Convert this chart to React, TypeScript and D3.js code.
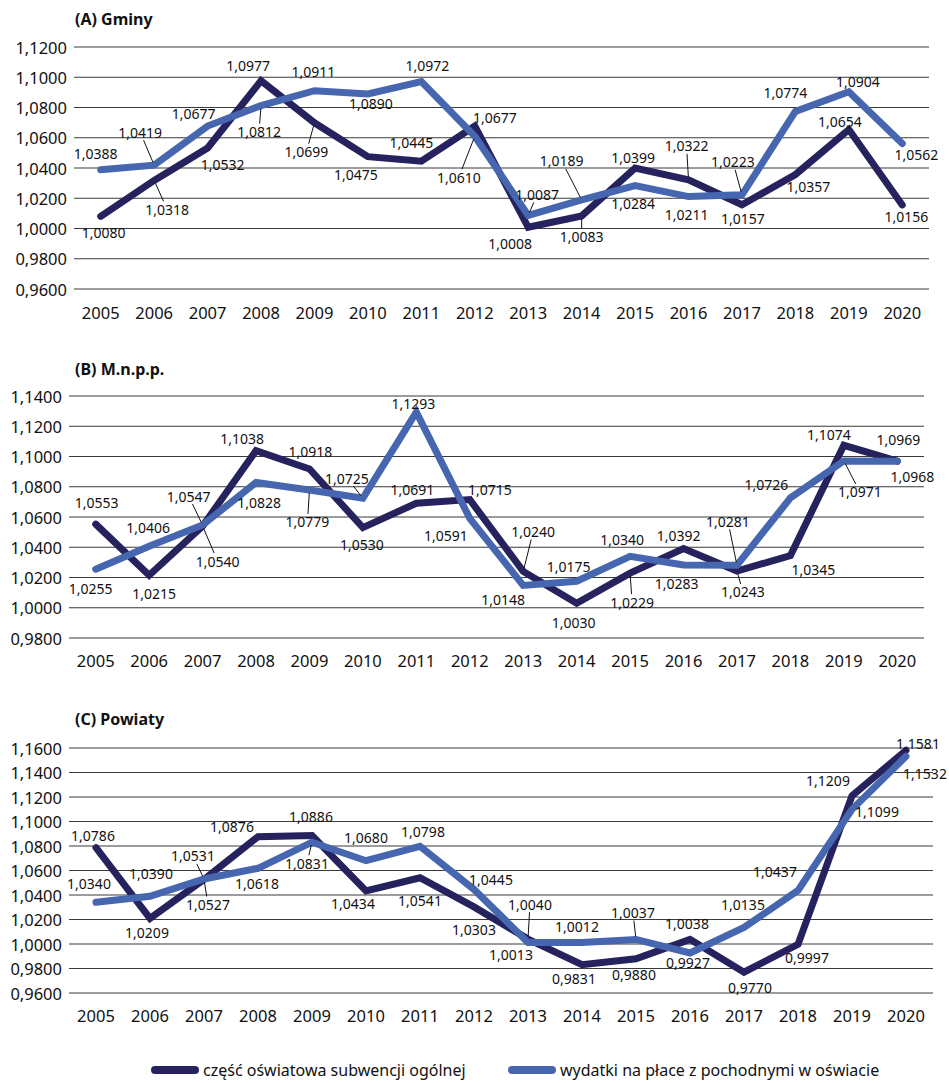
import React from "react";
import * as d3 from "d3";

const years = ["2005","2006","2007","2008","2009","2010","2011","2012","2013","2014","2015","2016","2017","2018","2019","2020"];

const seriesNames = ["część oświatowa subwencji ogólnej", "wydatki na płace z pochodnymi w oświacie"];

// (A) Gminy
const gminyOswiatowa = [1.0080,1.0318,1.0532,1.0977,1.0699,1.0475,1.0445,1.0677,1.0008,1.0083,1.0399,1.0322,1.0157,1.0357,1.0654,1.0156];
const gminyPlace = [1.0388,1.0419,1.0677,1.0812,1.0911,1.0890,1.0972,1.0610,1.0087,1.0189,1.0284,1.0211,1.0223,1.0774,1.0904,1.0562];
const gminyTicks = [0.96,0.98,1.00,1.02,1.04,1.06,1.08,1.10,1.12];

// (B) M.n.p.p.
const mnppOswiatowa = [1.0553,1.0215,1.0540,1.1038,1.0918,1.0530,1.0691,1.0715,1.0240,1.0030,1.0229,1.0392,1.0243,1.0345,1.1074,1.0969];
const mnppPlace = [1.0255,1.0406,1.0547,1.0828,1.0779,1.0725,1.1293,1.0591,1.0148,1.0175,1.0340,1.0283,1.0281,1.0726,1.0971,1.0968];
const mnppTicks = [0.98,1.00,1.02,1.04,1.06,1.08,1.10,1.12,1.14];

// (C) Powiaty
const powiatyOswiatowa = [1.0786,1.0209,1.0527,1.0876,1.0886,1.0434,1.0541,1.0303,1.0040,0.9831,0.9880,1.0038,0.9770,0.9997,1.1209,1.1581];
const powiatyPlace = [1.0340,1.0390,1.0531,1.0618,1.0831,1.0680,1.0798,1.0445,1.0013,1.0012,1.0037,0.9927,1.0135,1.0437,1.1099,1.1532];
const powiatyTicks = [0.96,0.98,1.00,1.02,1.04,1.06,1.08,1.10,1.12,1.14,1.16];

// label layout (pixel offsets from the point, leader flag)
type Off = [number, number, number?];
const gminyOffDark: Off[] = [[3,16],[13,29,1],[15,16],[-13,-15],[-8,29,1],[-12,18],[-10,-19],[20,-9],[-18,16],[0,21,1],[-2,-11],[-2,-34,1],[1,14],[13,12],[-9,-8],[4,12]];
const gminyOffBlue: Off[] = [[-5,-16],[-14,-33,1],[-14,-13],[-2,26,1],[-1,-19],[3,10],[6,-16],[-16,41,1],[9,-21,1],[-20,-39,1],[-2,18],[-2,18],[-9,-33,1],[-10,-19],[9,-10],[14,11]];
const mnppOffDark: Off[] = [[1,-22],[5,18],[15,35,1],[-14,-12],[1,-17],[-1,17],[-4,-14],[20,-10],[10,-40,1],[-3,19],[2,29,1],[-5,-13],[6,21,1],[23,14],[-15,-11],[1,-22]];
const mnppOffBlue: Off[] = [[-5,19],[-1,-19],[-14,-29,1],[3,20],[-2,32,1],[-16,-20,1],[-3,-9],[-24,17],[-20,14],[-8,-15],[-8,-17],[-7,19],[-9,-44,1],[-24,-13],[16,31,1],[15,15]];
const powiatyOffDark: Off[] = [[-3,-12],[-3,14],[4,25,1],[-26,-10],[-1,-19],[-13,13],[0,23],[0,23],[2,-35,1],[-8,14],[-2,16],[-3,-16],[6,15],[9,13],[-24,-15],[12,-7]];
const powiatyOffBlue: Off[] = [[-7,-19],[1,-23],[-11,-23,1],[-1,15],[-5,21,1],[0,-23],[3,-15],[17,-10],[-17,12],[-5,-16],[-3,-27,1],[-2,10],[-1,-23],[-23,-19],[25,2],[19,17]];

const DARK = "#26225e";
const BLUE = "#4667b0";
const FONT = "'Noto Sans', 'Open Sans', sans-serif";

const fmt = (v: number) => v.toFixed(4).replace(".", ",");

interface PanelProps {
  title: string;
  dark: number[];
  blue: number[];
  ticks: number[];
  offDark: Off[];
  offBlue: Off[];
  left: number;
  right: number;
  top: number;
  bottom: number;
  titleX: number;
  titleY: number;
  yearY: number;
  tickX: number;
}

function leader(px: number, py: number, lx: number, ly: number) {
  const w = 23, h = 8;
  const dx = lx - px, dy = ly - py;
  const s = Math.min(dx ? w / Math.abs(dx) : Infinity, dy ? h / Math.abs(dy) : Infinity);
  if (s >= 1) return null;
  const ex = lx - s * dx, ey = ly - s * dy;
  const len = Math.hypot(dx, dy);
  const sx = px + (3 / len) * dx, sy = py + (3 / len) * dy;
  return <line x1={sx} y1={sy} x2={ex} y2={ey} stroke="#111" strokeWidth={1} />;
}

function Panel(p: PanelProps) {
  const x = d3.scaleBand<string>().domain(years).range([p.left, p.right]);
  const y = d3.scaleLinear().domain([p.ticks[0], p.ticks[p.ticks.length - 1]]).range([p.bottom, p.top]);
  const cx = (i: number) => (x(years[i]) as number) + x.bandwidth() / 2;
  const line = d3.line<number>().x((_, i) => cx(i)).y((v) => y(v));
  const labels = (vals: number[], offs: Off[], key: string) =>
    vals.map((v, i) => {
      const px = cx(i), py = y(v);
      const [dx, dy, l] = offs[i];
      const lx = px + dx, ly = py + dy;
      return (
        <g key={key + i}>
          {l ? leader(px, py, lx, ly) : null}
          <text x={lx} y={ly} textAnchor="middle" dominantBaseline="central" fontSize={14} fill="#111">{fmt(v)}</text>
        </g>
      );
    });
  return (
    <g fontFamily={FONT}>
      <text x={p.titleX} y={p.titleY} fontSize={16} fontWeight="bold" dominantBaseline="central" fill="#111">{p.title}</text>
      {p.ticks.map((t) => (
        <g key={t}>
          <line x1={p.left} x2={p.right} y1={y(t)} y2={y(t)} stroke="#3a3a3a" strokeWidth={1.2} />
          <text x={p.tickX} y={y(t)} textAnchor="end" dominantBaseline="central" fontSize={16.5} fill="#111">{fmt(t)}</text>
        </g>
      ))}
      {years.map((yr, i) => (
        <text key={yr} x={cx(i)} y={p.yearY} textAnchor="middle" dominantBaseline="central" fontSize={16.5} fill="#111">{yr}</text>
      ))}
      <path d={line(p.dark) || ""} fill="none" stroke={DARK} strokeWidth={7} strokeLinejoin="miter" strokeLinecap="round" />
      <path d={line(p.blue) || ""} fill="none" stroke={BLUE} strokeWidth={7} strokeLinejoin="miter" strokeLinecap="round" />
      {labels(p.dark, p.offDark, "d")}
      {labels(p.blue, p.offBlue, "b")}
    </g>
  );
}

export default function App() {
  return (
    <svg width={949} height={1083} style={{ position: "absolute", left: 0, top: 0, background: "#fff" }}>
      <rect width={949} height={1083} fill="#fff" />
      <Panel title="(A) Gminy" dark={gminyOswiatowa} blue={gminyPlace} ticks={gminyTicks} offDark={gminyOffDark} offBlue={gminyOffBlue}
        left={74} right={929} top={47} bottom={289} titleX={75} titleY={19} yearY={312} tickX={67} />
      <Panel title="(B) M.n.p.p." dark={mnppOswiatowa} blue={mnppPlace} ticks={mnppTicks} offDark={mnppOffDark} offBlue={mnppOffBlue}
        left={69} right={924} top={396} bottom={638} titleX={75} titleY={369} yearY={660} tickX={62} />
      <Panel title="(C) Powiaty" dark={powiatyOswiatowa} blue={powiatyPlace} ticks={powiatyTicks} offDark={powiatyOffDark} offBlue={powiatyOffBlue}
        left={69} right={933} top={748} bottom={993} titleX={75} titleY={719} yearY={1015} tickX={62} />
      <g fontFamily={FONT} fontSize={16} fill="#111">
        <line x1={155} x2={195} y1={1070} y2={1070} stroke={DARK} strokeWidth={8} strokeLinecap="round" />
        <text x={203} y={1070} dominantBaseline="central">{seriesNames[0]}</text>
        <line x1={512} x2={552} y1={1070} y2={1070} stroke={BLUE} strokeWidth={8} strokeLinecap="round" />
        <text x={560} y={1070} dominantBaseline="central">{seriesNames[1]}</text>
      </g>
    </svg>
  );
}
